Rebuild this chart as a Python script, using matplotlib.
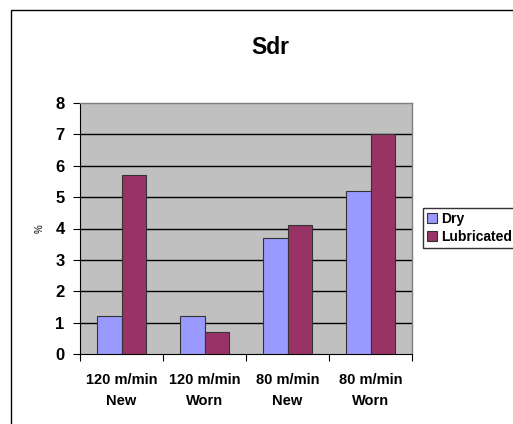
import matplotlib
matplotlib.use('Agg')
import matplotlib.pyplot as plt
from matplotlib.patches import Rectangle
import numpy as np

plt.rcParams['font.family'] = ['Liberation Sans', 'DejaVu Sans']

# Data
categories = ['120 m/min\nNew', '120 m/min\nWorn', '80 m/min\nNew', '80 m/min\nWorn']
dry = [1.2, 1.2, 3.7, 5.2]
lubricated = [5.7, 0.7, 4.1, 7.0]

fig = plt.figure(figsize=(5.13, 4.24), dpi=100)
fig.patch.set_facecolor('white')

# outer chart frame (left and top visible)
fig.patches.append(Rectangle((11 / 513, -0.5), 2.0, 1.5 - 10 / 424,
                             transform=fig.transFigure, fill=False,
                             edgecolor='black', linewidth=1.0, zorder=0))

ax = fig.add_axes([80 / 513, 1 - 354 / 424, 332 / 513, 251 / 424])
ax.set_facecolor('#C0C0C0')

x = np.arange(len(categories))
w = 0.29
ax.bar(x - w / 2, dry, w, color='#9999FF', edgecolor='#333333',
       linewidth=0.8, label='Dry', zorder=3)
ax.bar(x + w / 2, lubricated, w, color='#993366', edgecolor='#333333',
       linewidth=0.8, label='Lubricated', zorder=3)

ax.set_xlim(-0.5, 3.5)
ax.set_ylim(0, 8)
ax.set_yticks(range(0, 9))
for v in range(1, 8):
    ax.axhline(v, color='black', linewidth=1.0, zorder=2)

for s in ['top', 'right']:
    ax.spines[s].set_color('#808080')
    ax.spines[s].set_linewidth(1.0)
ax.spines['left'].set_color('black')
ax.spines['bottom'].set_color('black')

ax.set_xticks(np.arange(-0.5, 4.0, 1.0))
ax.set_xticklabels([])
ax.set_xticks(x, minor=True)
ax.set_xticklabels(categories, minor=True, fontsize=10.5, fontweight='bold',
                   linespacing=1.6)
ax.tick_params(axis='x', which='major', length=5, direction='out')
ax.tick_params(axis='x', which='minor', length=0, pad=14)
ax.tick_params(axis='y', length=5, direction='out', labelsize=12, pad=6)
for lab in ax.get_yticklabels():
    lab.set_fontweight('bold')

ax.set_ylabel('%', fontsize=7, labelpad=8)

fig.text(270 / 513, 1 - 48 / 424, 'Sdr', ha='center', va='center',
         fontsize=16.5, fontweight='bold')

leg = ax.legend(loc='center left', bbox_to_anchor=(423 / 513, 1 - 228 / 424),
                bbox_transform=fig.transFigure, frameon=True, fancybox=False,
                edgecolor='black', fontsize=10, handlelength=0.7,
                handleheight=0.7, handletextpad=0.3, borderpad=0.3,
                labelspacing=0.3, borderaxespad=0)
for t in leg.get_texts():
    t.set_fontweight('bold')

fig.savefig('out.png', dpi=100)
